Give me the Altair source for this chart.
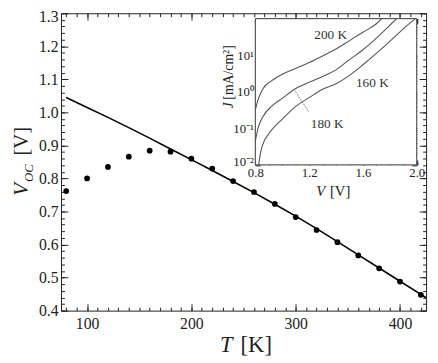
import altair as alt
import numpy as np
import pandas as pd

# ---------------- main plot data ----------------
T_pts = [80, 100, 120, 140, 160, 180, 200, 220, 240, 260, 280, 300, 320, 340, 360, 380, 400, 420]
V_pts = [0.762, 0.800, 0.835, 0.866, 0.884, 0.881, 0.860, 0.830, 0.792, 0.759, 0.723,
         0.683, 0.644, 0.607, 0.567, 0.528, 0.488, 0.448]

T_fit = [80, 100, 120, 140, 160, 180, 200, 220, 240, 260, 280, 300, 320, 340, 360, 380, 400, 420, 425]
V_fit = [1.045, 1.015, 0.985, 0.954, 0.922, 0.889, 0.857, 0.824, 0.791, 0.757, 0.722,
         0.686, 0.648, 0.609, 0.569, 0.529, 0.489, 0.449, 0.439]

x_major = [100, 200, 300, 400]
x_minor = list(range(80, 421, 10))
y_major = [round(0.4 + 0.1 * i, 2) for i in range(10)]
y_minor = [round(0.4 + 0.02 * i, 2) for i in range(46)]

# ---------------- inset data (V in volts, log10 J) ----------------
V_200 = [0.80, 0.82, 0.86, 0.92, 1.00, 1.10, 1.20, 1.30, 1.40, 1.50, 1.60, 1.70, 1.74]
L_200 = [-0.50, -0.22, 0.10, 0.30, 0.48, 0.64, 0.80, 0.98, 1.17, 1.40, 1.63, 1.86, 2.00]
V_180 = [0.80, 0.82, 0.86, 0.92, 1.00, 1.10, 1.20, 1.30, 1.40, 1.50, 1.60, 1.70, 1.80, 1.85]
L_180 = [-1.35, -1.00, -0.66, -0.40, -0.18, 0.09, 0.26, 0.42, 0.60, 0.88, 1.15, 1.47, 1.82, 2.00]
V_160 = [0.825, 0.84, 0.86, 0.90, 1.00, 1.10, 1.20, 1.30, 1.40, 1.50, 1.60, 1.70, 1.80, 1.90, 1.99]
L_160 = [-2.00, -1.65, -1.40, -1.15, -0.75, -0.40, -0.16, 0.07, 0.22, 0.45, 0.74, 1.05, 1.38, 1.72, 2.00]

curve_names = ["200 K", "180 K", "160 K"]
label_V = [1.36, 1.334, 1.67]
label_L = [1.54, -0.886, 0.23]
arrow_V = [1.087, 1.197]
arrow_L = [0.075, -0.55]

ix_major = [0.8, 1.2, 1.6, 2.0]
ix_minor = [round(0.8 + 0.1 * i, 2) for i in range(13)]
iy_major = [0.01, 0.1, 1, 10, 100]
iy_minor = [m * d for d in [0.01, 0.1, 1, 10] for m in range(2, 10)]

# ---------------- geometry ----------------
W, H = 372, 303
FONT = "Liberation Serif"
INK = "#222222"

xs = alt.Scale(domain=[75, 425], nice=False, zero=False)
ys = alt.Scale(domain=[0.4, 1.3], nice=False, zero=False)
ix_rng = [198, 362.5]
iy_rng = [154.5, 5.5]
ixs = alt.Scale(domain=[0.8, 2.0], range=ix_rng, nice=False, zero=False)
iys = alt.Scale(type="log", domain=[0.01, 100], range=iy_rng, nice=False)

pts = pd.DataFrame({"T": T_pts, "V": V_pts})
fit = pd.DataFrame({"T": T_fit, "V": V_fit})

rows = []
for name, vv, ll in [("200 K", V_200, L_200), ("180 K", V_180, L_180), ("160 K", V_160, L_160)]:
    for v, l in zip(vv, ll):
        rows.append({"curve": name, "V": v, "J": float(10 ** l)})
curves = pd.DataFrame(rows)
labels_df = pd.DataFrame({"name": curve_names, "V": label_V,
                          "J": [float(10 ** l) for l in label_L]})
arrow_df = pd.DataFrame({"V": [arrow_V[0]], "V2": [arrow_V[1]],
                         "J": [float(10 ** arrow_L[0])], "J2": [float(10 ** arrow_L[1])]})
frame_df = pd.DataFrame({"V": [0.8], "V2": [2.0], "J": [0.01], "J2": [100.0]})

layers = []

# main fit line and points
layers.append(alt.Chart(fit).mark_line(color="black", strokeWidth=1.6).encode(
    x=alt.X("T:Q", scale=xs, axis=None), y=alt.Y("V:Q", scale=ys, axis=None)))
layers.append(alt.Chart(pts).mark_circle(color="black", size=34, opacity=1).encode(
    x=alt.X("T:Q", scale=xs, axis=None), y=alt.Y("V:Q", scale=ys, axis=None)))


def axis_layer(channel, scale, orient, values, tick, base_offset=0.0, labels=False,
               fmt=None, label_expr=None, size=16, pad=3, label_offset=None):
    df = pd.DataFrame({"a": [values[0]]})
    kw = dict(orient=orient, values=values, tickSize=tick, offset=-(base_offset + tick),
              domain=False, grid=False, labels=labels, title=None, tickColor=INK,
              tickWidth=1, labelFont=FONT, labelFontSize=size, labelColor=INK,
              labelPadding=pad, labelOverlap=False, labelFlush=False)
    if fmt:
        kw["format"] = fmt
    if label_expr:
        kw["labelExpr"] = label_expr
    if label_offset is not None:
        kw["labelOffset"] = label_offset
    ax = alt.Axis(**kw)
    enc = alt.X("a:Q", scale=scale, axis=ax) if channel == "x" else alt.Y("a:Q", scale=scale, axis=ax)
    if channel == "x":
        return alt.Chart(df).mark_point(opacity=0).encode(x=enc)
    return alt.Chart(df).mark_point(opacity=0).encode(y=enc)


top_label_shift = {"condition": {"test": "datum.value > 1.25", "value": 3}, "value": 0}
bottom_inset_shift = {"condition": {"test": "datum.value < 0.05", "value": -3}, "value": 0}

# main axes (inward ticks)
layers += [
    axis_layer("x", xs, "bottom", x_major, 7, labels=True, fmt="d", size=16, pad=5),
    axis_layer("x", xs, "bottom", x_minor, 3.5),
    axis_layer("x", xs, "top", x_major, 7),
    axis_layer("x", xs, "top", x_minor, 3.5),
    axis_layer("y", ys, "left", y_major, 7, labels=True, fmt=".1f", size=16, pad=3,
               label_offset=top_label_shift),
    axis_layer("y", ys, "left", y_minor, 3.5),
    axis_layer("y", ys, "right", y_major, 7),
    axis_layer("y", ys, "right", y_minor, 3.5),
]

# inset frame
layers.append(alt.Chart(frame_df).mark_rect(fill="white", stroke="#333333", strokeWidth=1).encode(
    x=alt.X("V:Q", scale=ixs, axis=None), x2="V2:Q",
    y=alt.Y("J:Q", scale=iys, axis=None), y2="J2:Q"))

# inset curves
layers.append(alt.Chart(curves).mark_line(color="#555555", strokeWidth=1.1, interpolate="monotone").encode(
    x=alt.X("V:Q", scale=ixs, axis=None), y=alt.Y("J:Q", scale=iys, axis=None),
    detail="curve:N"))

# arrow for 180 K
layers.append(alt.Chart(arrow_df).mark_rule(color="#888888", strokeWidth=1, strokeDash=[2, 1]).encode(
    x=alt.X("V:Q", scale=ixs, axis=None), x2="V2:Q",
    y=alt.Y("J:Q", scale=iys, axis=None), y2="J2:Q"))

# inset curve labels
layers.append(alt.Chart(labels_df).mark_text(font=FONT, fontSize=13.5, color="#333333").encode(
    x=alt.X("V:Q", scale=ixs, axis=None), y=alt.Y("J:Q", scale=iys, axis=None),
    text="name:N"))

# inset axes
ib = H - iy_rng[0]
il = ix_rng[0]
it = iy_rng[1]
ir = W - ix_rng[1]
exp_labels = ("datum.value < 0.05 ? '10⁻²' : datum.value < 0.5 ? '10⁻¹' : "
              "datum.value < 5 ? '10⁰' : datum.value < 50 ? '10¹' : ''")
layers += [
    axis_layer("x", ixs, "bottom", ix_major, 5, base_offset=ib, labels=True, fmt=".1f", size=13, pad=2),
    axis_layer("x", ixs, "bottom", ix_minor, 3, base_offset=ib),
    axis_layer("x", ixs, "top", ix_major, 5, base_offset=it),
    axis_layer("x", ixs, "top", ix_minor, 3, base_offset=it),
    axis_layer("y", iys, "left", iy_major, 5, base_offset=il, labels=True, label_expr=exp_labels,
               size=13, pad=2, label_offset=bottom_inset_shift),
    axis_layer("y", iys, "left", iy_minor, 3, base_offset=il),
    axis_layer("y", iys, "right", iy_major, 5, base_offset=ir),
    axis_layer("y", iys, "right", iy_minor, 3, base_offset=ir),
]


def txt(s, x, y, size, italic=False, angle=0):
    kw = dict(text=s, font=FONT, fontSize=size, color=INK, align="left", baseline="alphabetic")
    if italic:
        kw["fontStyle"] = "italic"
    if angle:
        kw["angle"] = angle
    return alt.Chart(pd.DataFrame({"k": [0]})).mark_text(**kw).encode(x=alt.value(x), y=alt.value(y))


# axis titles
layers += [
    txt("T", 162, 345, 23, italic=True),
    txt("[K]", 183, 345, 23),
    txt("V", -34, 186, 21, italic=True, angle=270),
    txt("OC", -29, 172, 13, italic=True, angle=270),
    txt("[V]", -34, 145, 21, angle=270),
    txt("V", 260, 186, 15, italic=True),
    txt("[V]", 274, 186, 15),
    txt("J", 175, 97, 14, italic=True, angle=270),
    txt("[mA/cm²]", 175, 88, 14, angle=270),
]

chart = alt.layer(*layers).resolve_scale(x="independent", y="independent").properties(
    width=W, height=H,
    autosize=alt.AutoSizeParams(type="none"),
    padding={"left": 54, "top": 2, "right": 4, "bottom": 50},
    background="white",
).configure_view(stroke=INK, strokeWidth=1)

chart.save("out.html", embed_options={"renderer": "svg", "actions": False})
